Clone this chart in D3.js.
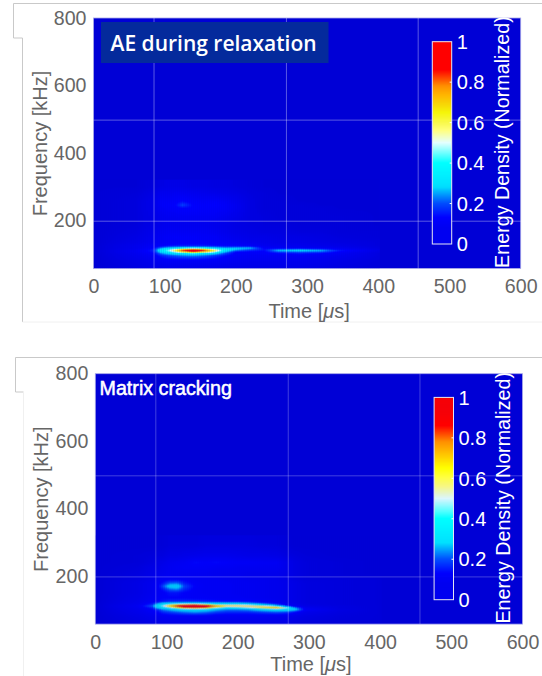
<!DOCTYPE html>
<html>
<head>
<meta charset="utf-8">
<script src="https://cdn.jsdelivr.net/npm/d3@7"></script>
<style>
  html, body { margin: 0; padding: 0; background: #fff; }
  text { font-family: "Liberation Sans", Arial, sans-serif; }
</style>
</head>
<body>
<svg id="chart" width="542" height="676"></svg>
<script>
var timeTicks = [0, 100, 200, 300, 400, 500, 600];
var freqTicks = [200, 400, 600, 800];
var barTicks = [0, 0.2, 0.4, 0.6, 0.8, 1];
var gridTimes = [85, 271, 456];
var gridFreqs = [197, 497];

var relaxTimes = [0, 60, 85, 95, 105, 115, 125, 140, 155, 170, 185, 200, 220, 240, 260, 290, 320, 345, 400, 600];
var relaxFreqs = [57, 80, 95, 102, 106, 110, 114, 118, 124, 135, 150, 165, 185, 210, 235, 245, 255, 280, 300, 800];
var relaxEnergy = [
  [0, .03, .05, .05, .06, .06, .06, .06, .06, .06, .05, .05, .05, .05, .05, .05, .04, .03, .01, 0],
  [0, .05, .08, .10, .11, .11, .11, .11, .11, .11, .10, .09, .08, .08, .08, .08, .07, .05, .02, 0],
  [0, .07, .11, .16, .19, .21, .23, .24, .22, .18, .14, .11, .10, .10, .10, .11, .10, .08, .03, 0],
  [0, .08, .13, .24, .30, .34, .38, .44, .38, .32, .20, .12, .11, .12, .14, .16, .14, .10, .03, 0],
  [0, .09, .15, .32, .40, .50, .64, .78, .66, .50, .27, .14, .12, .12, .20, .22, .20, .12, .04, 0],
  [0, .09, .16, .36, .46, .62, .86, 1.0, .88, .62, .35, .22, .17, .14, .28, .30, .27, .16, .05, 0],
  [0, .08, .15, .32, .40, .50, .62, .74, .64, .48, .33, .28, .22, .14, .20, .22, .18, .11, .04, 0],
  [0, .07, .13, .22, .28, .31, .33, .36, .34, .30, .25, .27, .27, .12, .10, .10, .09, .08, .03, 0],
  [0, .07, .11, .12, .14, .15, .15, .15, .15, .14, .13, .12, .11, .08, .07, .07, .06, .05, .02, 0],
  [0, .05, .09, .10, .11, .11, .12, .12, .12, .11, .10, .09, .07, .06, .05, .05, .04, .03, .02, 0],
  [0, .04, .08, .10, .11, .12, .12, .12, .11, .11, .09, .07, .05, .05, .04, .04, .03, .02, .01, 0],
  [0, .03, .07, .09, .10, .10, .10, .10, .10, .09, .07, .05, .04, .03, .03, .02, .02, .01, .01, 0],
  [0, .02, .05, .07, .08, .08, .08, .08, .08, .07, .06, .04, .03, .02, .02, .01, .01, .01, 0, 0],
  [0, .02, .05, .08, .09, .09, .10, .10, .10, .10, .08, .06, .03, .02, .01, .01, .01, .01, 0, 0],
  [0, .02, .06, .10, .11, .12, .13, .13, .12, .12, .11, .08, .03, .01, .01, .01, .01, 0, 0, 0],
  [0, .02, .06, .11, .12, .13, .19, .13, .12, .13, .11, .08, .03, .01, .01, .01, 0, 0, 0, 0],
  [0, .02, .06, .11, .11, .12, .14, .12, .11, .12, .10, .07, .03, .01, .01, 0, 0, 0, 0, 0],
  [0, .01, .04, .08, .08, .09, .09, .08, .07, .06, .05, .04, .02, .01, 0, 0, 0, 0, 0, 0],
  [0, 0, .02, .04, .05, .05, .05, .04, .04, .03, .03, .02, .01, 0, 0, 0, 0, 0, 0, 0],
  [0, 0, 0, 0, 0, 0, 0, 0, 0, 0, 0, 0, 0, 0, 0, 0, 0, 0, 0, 0]
];

var crackTimes = [0, 60, 80, 88, 95, 105, 115, 125, 140, 155, 170, 185, 200, 215, 235, 255, 270, 280, 295, 340, 400, 600];
var crackFreqs = [57, 80, 92, 100, 105, 110, 114, 118, 124, 135, 150, 160, 169, 178, 190, 205, 225, 240, 260, 290, 800];
var crackEnergy = [
  [0, .03, .05, .05, .06, .06, .06, .06, .06, .06, .06, .06, .06, .06, .06, .05, .05, .03, .02, .01, .01, 0],
  [0, .05, .08, .09, .10, .11, .11, .11, .11, .11, .10, .10, .10, .10, .10, .09, .08, .06, .04, .02, .01, 0],
  [0, .07, .11, .13, .17, .19, .21, .23, .25, .23, .19, .17, .17, .17, .19, .21, .19, .14, .07, .03, .01, 0],
  [0, .08, .13, .18, .24, .28, .32, .34, .38, .34, .28, .24, .24, .26, .33, .37, .37, .32, .12, .04, .01, 0],
  [0, .09, .16, .30, .37, .46, .60, .72, .76, .70, .50, .40, .42, .48, .60, .70, .46, .26, .09, .03, .01, 0],
  [0, .10, .22, .38, .48, .68, .86, .97, 1.0, .97, .76, .60, .60, .60, .58, .46, .22, .11, .05, .03, .01, 0],
  [0, .09, .18, .34, .42, .56, .68, .76, .80, .70, .54, .52, .52, .48, .38, .22, .11, .08, .04, .02, .01, 0],
  [0, .08, .15, .24, .33, .37, .38, .40, .40, .36, .33, .33, .33, .29, .20, .14, .09, .06, .03, .02, .01, 0],
  [0, .07, .11, .13, .15, .17, .17, .17, .17, .16, .15, .14, .14, .13, .11, .09, .07, .05, .03, .02, .01, 0],
  [0, .06, .10, .12, .13, .13, .13, .13, .12, .12, .11, .11, .11, .10, .09, .08, .07, .05, .03, .02, .01, 0],
  [0, .05, .09, .11, .12, .15, .15, .13, .12, .11, .11, .11, .10, .10, .09, .08, .07, .05, .03, .02, .01, 0],
  [0, .05, .09, .11, .15, .22, .24, .17, .12, .11, .11, .11, .10, .10, .09, .08, .07, .05, .03, .02, .01, 0],
  [0, .05, .09, .12, .20, .32, .34, .20, .13, .11, .11, .11, .10, .10, .09, .08, .07, .05, .03, .02, .01, 0],
  [0, .05, .09, .11, .15, .22, .23, .16, .12, .11, .11, .11, .10, .10, .09, .08, .07, .05, .03, .02, .01, 0],
  [0, .04, .07, .10, .11, .12, .12, .12, .11, .11, .11, .10, .10, .09, .09, .08, .06, .04, .02, .02, .01, 0],
  [0, .03, .06, .08, .09, .10, .10, .10, .10, .10, .09, .09, .09, .08, .08, .08, .06, .04, .02, .01, 0, 0],
  [0, .02, .05, .06, .08, .10, .11, .12, .12, .12, .11, .11, .10, .10, .10, .10, .07, .04, .02, .01, 0, 0],
  [0, .01, .03, .05, .06, .09, .10, .11, .14, .13, .14, .13, .12, .12, .11, .11, .07, .04, .02, .01, 0, 0],
  [0, .01, .02, .03, .03, .05, .05, .06, .07, .08, .08, .08, .07, .06, .06, .05, .03, .02, .01, 0, 0, 0],
  [0, 0, 0, .01, .01, .02, .02, .02, .02, .03, .03, .03, .03, .03, .02, .02, .01, 0, 0, 0, 0, 0],
  [0, 0, 0, 0, 0, 0, 0, 0, 0, 0, 0, 0, 0, 0, 0, 0, 0, 0, 0, 0, 0, 0]
];

var colorStops = [0, .04, .13, .20, .28, .40, .50, .56, .65, .78, .86, 1];
var colorRange = ['#0000d6', '#0000e6', '#0000ff', '#0050ff', '#00e0ff', '#00ffff', '#e4ffff', '#ffff80', '#ffff00', '#ff9000', '#ff0000', '#ff0000'];
var energyColor = d3.scaleLinear().domain(colorStops).range(colorRange).clamp(true);

var svg = d3.select('#chart');

// grey slide frames left over around each panel
function drawFrame(d, stroke) {
  svg.append('path').attr('d', d).attr('fill', 'none').attr('stroke', stroke).attr('stroke-width', 1);
}
drawFrame('M542,3.5H13.5V38H22.5V322', '#c9c9c9');
drawFrame('M22.5,322H542', '#f0f0f0');
drawFrame('M542,357.5H15.5V392H23.5', '#c9c9c9');
drawFrame('M23.5,392V676', '#f0f0f0');

// bilinear lookup in a hand read matrix, same as shading interp
function sampler(times, freqs, energy) {
  var ti = d3.bisector(function(d) { return d; }).right;
  return function(t, f) {
    var i = Math.min(Math.max(ti(times, t) - 1, 0), times.length - 2);
    var j = Math.min(Math.max(ti(freqs, f) - 1, 0), freqs.length - 2);
    var u = (t - times[i]) / (times[i + 1] - times[i]);
    var v = (f - freqs[j]) / (freqs[j + 1] - freqs[j]);
    var a = energy[j][i] * (1 - u) + energy[j][i + 1] * u;
    var b = energy[j + 1][i] * (1 - u) + energy[j + 1][i + 1] * u;
    return a * (1 - v) + b * v;
  };
}

function drawPanel(p) {
  var x = d3.scaleLinear().domain([0, 600]).range([p.left, p.left + 427.2]);
  var y = d3.scaleLinear().domain([57, 800]).range([p.top + 250.4, p.top]);
  var g = svg.append('g');

  g.append('rect')
    .attr('x', x(0)).attr('y', y(800))
    .attr('width', x(600) - x(0)).attr('height', y(57) - y(800))
    .attr('fill', energyColor(0));

  var lookup = sampler(p.times, p.freqs, p.energy);
  var cells = [];
  d3.range(x(0), x(400), 2).forEach(function(px) {
    d3.range(y(320), y(57), 1).forEach(function(py) {
      cells.push({
        px: px, py: py,
        value: lookup(x.invert(px + 1), y.invert(py + 0.5))
      });
    });
  });

  svg.append('clipPath').attr('id', p.id + '-clip')
    .append('rect')
      .attr('x', x(0)).attr('y', y(800))
      .attr('width', x(600) - x(0)).attr('height', y(57) - y(800));

  g.append('g')
    .attr('clip-path', 'url(#' + p.id + '-clip)')
    .append('g')
      .attr('class', 'heat')
      .style('filter', 'blur(0.5px)')
      .selectAll('rect').data(cells).enter().append('rect')
        .attr('x', function(d) { return d.px; })
        .attr('y', function(d) { return d.py; })
        .attr('width', 2.2).attr('height', 1.2)
        .attr('fill', function(d) { return energyColor(d.value); });

  g.append('rect')
    .attr('x', x(0)).attr('y', y(800))
    .attr('width', x(600) - x(0)).attr('height', y(57) - y(800))
    .attr('fill', 'none')
    .attr('stroke', '#a8a8e8').attr('stroke-width', 0.8);

  // the overlay grid does not sit on the ticks in the source either
  g.selectAll('line.gx').data(gridTimes).enter().append('line')
    .attr('class', 'gx')
    .attr('x1', x).attr('x2', x)
    .attr('y1', y(800)).attr('y2', y(57))
    .attr('stroke', '#fff').attr('stroke-opacity', p.gridOpacity);
  g.selectAll('line.gy').data(gridFreqs).enter().append('line')
    .attr('class', 'gy')
    .attr('x1', x(0)).attr('x2', x(600))
    .attr('y1', y).attr('y2', y)
    .attr('stroke', '#fff').attr('stroke-opacity', p.gridOpacity);

  var xAxis = d3.axisBottom(x).tickValues(timeTicks).tickSize(0).tickPadding(0);
  var axX = g.append('g').attr('transform', 'translate(0,' + (y(57) + 11) + ')').call(xAxis);
  var yAxis = d3.axisLeft(y).tickValues(freqTicks).tickSize(0).tickPadding(0);
  var axY = g.append('g').attr('transform', 'translate(' + (x(0) - 7) + ',0)').call(yAxis);
  [axX, axY].forEach(function(ax) {
    ax.select('.domain').remove();
    ax.selectAll('text')
      .attr('fill', '#666')
      .style('font-family', '"Liberation Sans", Arial, sans-serif')
      .style('font-size', '19.6px');
  });

  var xLabel = g.append('text')
    .attr('x', x(300) + 2).attr('y', y(57) + p.labelGap)
    .attr('text-anchor', 'middle').attr('fill', '#666').style('font-size', '20px');
  xLabel.append('tspan').text('Time [');
  xLabel.append('tspan').attr('font-style', 'italic').text('\u03bc');
  xLabel.append('tspan').text('s]');

  g.append('text')
    .attr('transform', 'translate(' + (x(0) - 47) + ',' + (p.top + 125.5) + ') rotate(-90)')
    .attr('text-anchor', 'middle').attr('fill', '#666').style('font-size', '20px')
    .text('Frequency [kHz]');

  // colorbar
  var barY = d3.scaleLinear().domain([0, 1]).range([p.top + 226, p.top + 23.7]);
  var barL = x(0) + 338.8, barW = 19.4;
  g.selectAll('rect.bar').data(d3.range(0, 1, 0.005)).enter().append('rect')
    .attr('class', 'bar')
    .attr('x', barL).attr('width', barW)
    .attr('y', function(d) { return barY(d + 0.005) - 0.3; })
    .attr('height', barY(0) - barY(0.005) + 0.6)
    .attr('fill', function(d) { return energyColor(Math.max(d, 0.08)); });
  g.append('rect')
    .attr('x', barL).attr('y', barY(1)).attr('width', barW).attr('height', barY(0) - barY(1))
    .attr('fill', 'none').attr('stroke', '#e6e6f0').attr('stroke-width', 1);
  g.selectAll('line.bt').data(barTicks.slice(1, -1)).enter().append('line')
    .attr('class', 'bt')
    .attr('x1', barL + barW - 2).attr('x2', barL + barW)
    .attr('y1', barY).attr('y2', barY)
    .attr('stroke', '#fff');
  g.selectAll('text.bl').data(barTicks).enter().append('text')
    .attr('class', 'bl')
    .attr('x', barL + barW + 5).attr('y', barY).attr('dy', '0.36em')
    .attr('fill', '#fff').style('font-size', '20px')
    .text(function(d) { return d; });
  g.append('text')
    .attr('transform', 'translate(' + (x(0) + 415) + ',' + (y(57) - 0.5) + ') rotate(-90)')
    .attr('fill', '#fff').style('font-size', '19.7px')
    .text('Energy Density (Normalized)');

  p.caption(g);
}

drawPanel({
  id: 'relax', left: 93.5, top: 18, labelGap: 50,
  times: relaxTimes, freqs: relaxFreqs, energy: relaxEnergy, gridOpacity: 0.35,
  caption: function(g) {
    g.append('rect').attr('x', 101).attr('y', 22).attr('width', 227.5).attr('height', 41).attr('fill', '#042a9c');
    g.append('text').attr('x', 110.5).attr('y', 51)
      .attr('fill', '#fff').style('font-family', '"Open Sans", sans-serif')
      .style('font-size', '21px').style('font-weight', 600)
      .text('AE during relaxation');
  }
});

drawPanel({
  id: 'crack', left: 95.3, top: 373.7, labelGap: 47,
  times: crackTimes, freqs: crackFreqs, energy: crackEnergy, gridOpacity: 0.25,
  caption: function(g) {
    g.append('text').attr('x', 99.5).attr('y', 394.5)
      .attr('fill', '#fff').attr('stroke', '#fff').attr('stroke-width', 0.5)
      .style('font-size', '19.7px')
      .text('Matrix cracking');
  }
});
</script>
</body>
</html>
